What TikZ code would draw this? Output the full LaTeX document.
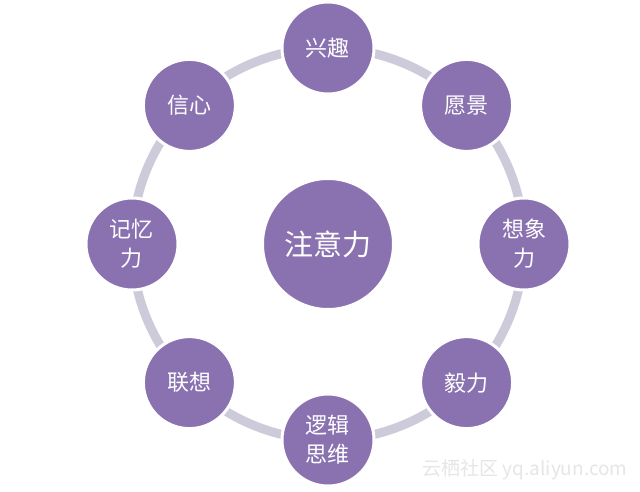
\documentclass[tikz,border=0pt]{standalone}
\usepackage{fontspec}
\newfontfamily\cjk{Noto Sans CJK SC}
\usepackage{xcolor}
\usepackage{tikz}
\usetikzlibrary{positioning}
\definecolor{focus}{HTML}{8A72B0}
\definecolor{track}{HTML}{CDCBDA}
\definecolor{stamp}{HTML}{E6E6E6}

\begin{document}
\begin{tikzpicture}[x=1pt, y=1pt,
    ball/.style={circle, fill=focus, draw=white, line width=3pt, outer sep=2.5pt,
        minimum size=92pt, inner sep=0pt, text=white, align=center,
        font=\cjk\fontsize{22}{29}\selectfont},
    ringline/.style={draw=track, line width=9pt, bend left=22.5, looseness=0.885}]
    \fill[white] (-328,-247) rectangle (312,244);
    \useasboundingbox (-328,-247) rectangle (312,244);
    % places on the ring, clockwise from the top
    \coordinate (pXQ) at (90:196);
    \coordinate (pYJ) at (45:196);
    \coordinate (pXX) at (0:196);
    \coordinate (pYL) at (-45:196);
    \coordinate (pLJ) at (-90:196);
    \coordinate (pLX) at (-135:196);
    \coordinate (pJY) at (180:196);
    \coordinate (pXIN) at (135:196);
    \draw[ringline] (pXQ) to (pYJ);
    \draw[ringline] (pYJ) to (pXX);
    \draw[ringline] (pXX) to (pYL);
    \draw[ringline] (pYL) to (pLJ);
    \draw[ringline] (pLJ) to (pLX);
    \draw[ringline] (pLX) to (pJY);
    \draw[ringline] (pJY) to (pXIN);
    \draw[ringline] (pXIN) to (pXQ);
    % centre
    \node[ball, minimum size=131pt, font=\cjk\fontsize{29}{35}\selectfont] (ZYL) at (0,0) {注意力};
    % outer circles
    \node[ball] (XQ) at (pXQ) {兴趣};
    \node[ball] (YJ) at (pYJ) {愿景};
    \node[ball] (XX) at (pXX) {想象\\力};
    \node[ball] (YL) at (pYL) {毅力};
    \node[ball] (LJ) at (pLJ) {逻辑\\思维};
    \node[ball] (LX) at (pLX) {联想};
    \node[ball] (JY) at (pJY) {记忆\\力};
    \node[ball] (XIN) at (pXIN) {信心};
    % watermark
    \node[text=stamp, font=\cjk\fontsize{19}{21}\selectfont, inner sep=0pt] (WM) at (197,-226) {云栖社区 yq.aliyun.com};
\end{tikzpicture}
\end{document}
